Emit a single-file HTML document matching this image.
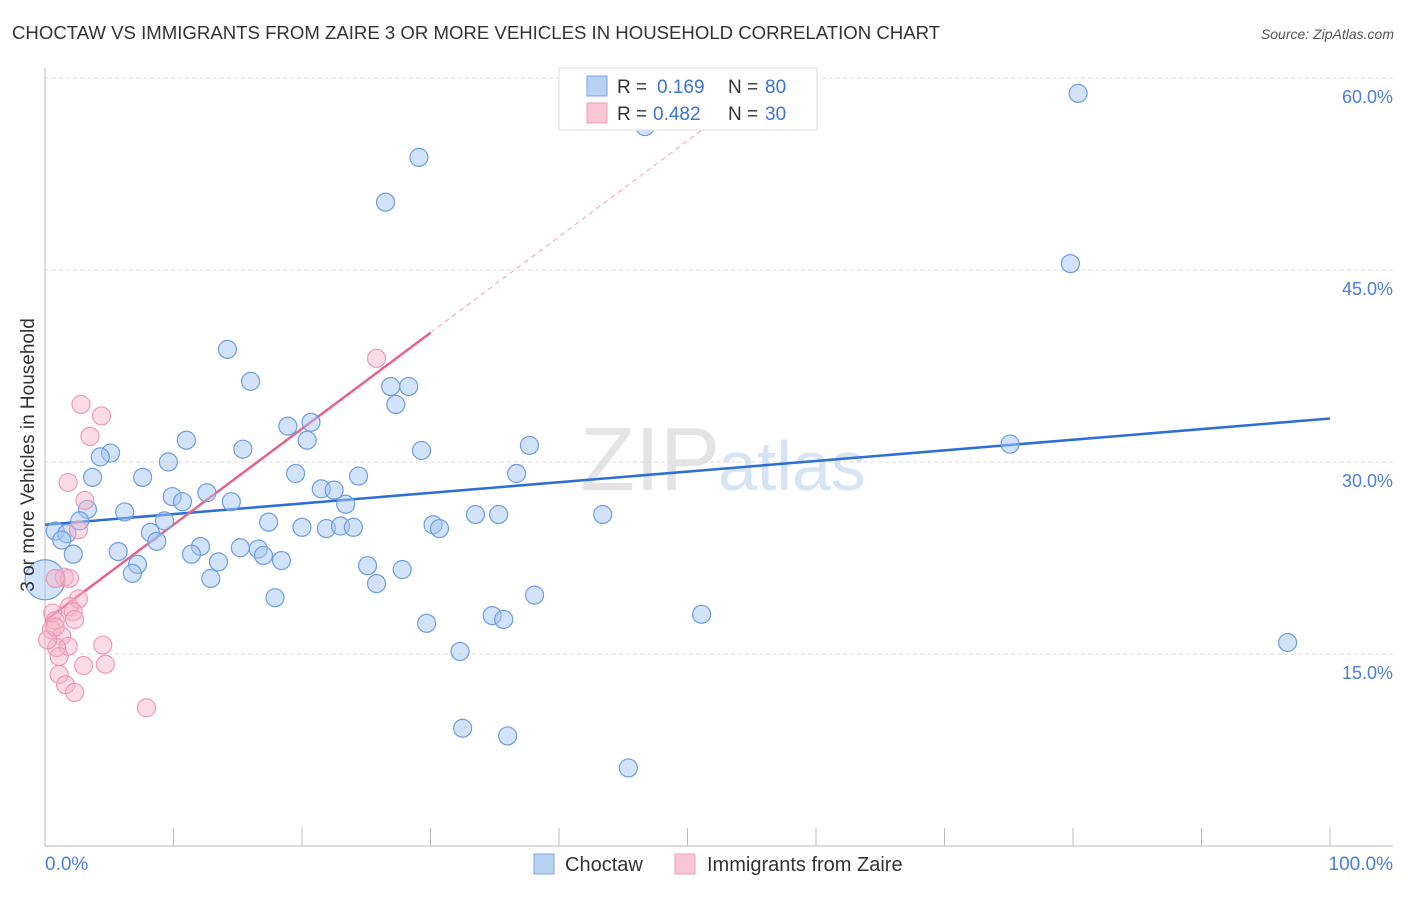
<!DOCTYPE html>
<html><head><meta charset="utf-8"><style>
body{margin:0;background:#fff;font-family:"Liberation Sans",sans-serif}
svg text{font-family:"Liberation Sans",sans-serif}
</style></head><body>
<svg id="chart" width="1406" height="892" xmlns="http://www.w3.org/2000/svg">
<text x="12" y="39" font-size="18.6" fill="#333">CHOCTAW VS IMMIGRANTS FROM ZAIRE 3 OR MORE VEHICLES IN HOUSEHOLD CORRELATION CHART</text>
<text x="1394" y="39" font-size="14" fill="#555" font-style="italic" text-anchor="end">Source: ZipAtlas.com</text>
<text x="720" y="490" font-size="90" fill="#e4e4e4" text-anchor="end" font-family="Liberation Serif">ZIP</text>
<text x="718" y="490" font-size="70" fill="#d6e4f4">atlas</text>
<g id="grid"></g>
<g id="axes"></g>
<g id="trend"></g>
<g id="points"></g>
<text x="34" y="455" font-size="19" fill="#333" text-anchor="middle" transform="rotate(-90 34 455)">3 or more Vehicles in Household</text>
<text x="45" y="870" font-size="19" fill="#4a7fd4">0.0%</text>
<text x="1393" y="870" font-size="19" fill="#4a7fd4" text-anchor="end">100.0%</text>
<g>
<rect x="559" y="68" width="258" height="62" fill="#fff" stroke="#ddd"/>
<rect x="587" y="76" width="20" height="20" fill="#b9d2f3" stroke="#7aa5e5"/>
<rect x="587" y="103" width="20" height="20" fill="#f9c6d6" stroke="#ef9fb8"/>
<text x="617" y="93" font-size="19" fill="#333">R =</text><text x="657" y="93" font-size="19" fill="#3a74d4">0.169</text>
<text x="728" y="93" font-size="19" fill="#333">N =</text><text x="765" y="93" font-size="19" fill="#3a74d4">80</text>
<text x="617" y="120" font-size="19" fill="#333">R =</text><text x="653" y="120" font-size="19" fill="#3a74d4">0.482</text>
<text x="728" y="120" font-size="19" fill="#333">N =</text><text x="765" y="120" font-size="19" fill="#3a74d4">30</text>
</g>
<g>
<rect x="534" y="854" width="20" height="20" fill="#b9d2f3" stroke="#7aa5e5"/>
<text x="565" y="871" font-size="20" fill="#333">Choctaw</text>
<rect x="675" y="854" width="20" height="20" fill="#f9c6d6" stroke="#ef9fb8"/>
<text x="707" y="871" font-size="20" fill="#333">Immigrants from Zaire</text>
</g>
</svg>
<script>
const yTicks=[15,30,45,60];
const yTickLabels=["15.0%","30.0%","45.0%","60.0%"];
const xTicks=[10,20,30,40,50,60,70,80,90,100];
const choctawX=[80.4,46.7,29.1,26.5,79.8,14.2,16.0,26.9,28.3,27.3,20.7,18.9,20.4,11.0,37.7,75.1,15.4,29.3,5.1,4.3,9.6,19.5,36.7,3.7,7.6,24.4,21.5,22.5,12.6,9.9,10.7,14.5,23.4,3.3,6.2,33.5,35.3,43.4,2.7,9.3,17.4,30.2,30.7,20.0,21.9,23.0,24.0,0.8,1.7,8.2,1.3,8.7,12.1,15.2,16.6,5.7,17.0,2.2,11.4,18.4,13.5,7.2,25.1,27.8,6.8,12.9,25.8,38.1,17.9,34.8,35.7,51.1,29.7,32.3,96.7,32.5,36.0,45.4,0];
const choctawY=[58.8,56.2,53.8,50.3,45.5,38.8,36.3,35.9,35.9,34.5,33.1,32.8,31.7,31.7,31.3,31.4,31.0,30.9,30.7,30.4,30.0,29.1,29.1,28.8,28.8,28.9,27.9,27.8,27.6,27.3,26.9,26.9,26.7,26.3,26.1,25.9,25.9,25.9,25.4,25.4,25.3,25.1,24.8,24.9,24.8,25.0,24.9,24.6,24.4,24.5,23.9,23.8,23.4,23.3,23.2,23.0,22.7,22.8,22.8,22.3,22.2,22.0,21.9,21.6,21.3,20.9,20.5,19.6,19.4,18.0,17.7,18.1,17.4,15.2,15.9,9.2,8.6,6.1,20.8];
const zaireX=[25.8,2.8,4.4,3.5,1.8,3.1,2.6,1.5,1.9,0.8,2.6,1.9,2.2,2.3,0.6,0.8,0.5,1.3,4.5,1.8,0.9,1.1,3.0,4.7,1.1,1.6,2.3,7.9,0.2,0.8];
const zaireY=[38.1,34.5,33.6,32.0,28.4,27.0,24.7,21.0,20.9,20.9,19.3,18.7,18.3,17.7,18.2,17.6,16.9,16.4,15.7,15.6,15.5,14.8,14.1,14.2,13.4,12.6,12.0,10.8,16.1,17.1];
const choctawTrend=[25.1,33.4];
const zaireTrend=[17.6,40.1];
const NS="http://www.w3.org/2000/svg";
const X0=45,X1=1330,Y0=846,PX15=192;
function sx(v){return X0+(X1-X0)*v/100;}
function sy(v){return Y0-v*PX15/15;}
function mk(tag,attrs,parent){const e=document.createElementNS(NS,tag);for(const k in attrs)e.setAttribute(k,attrs[k]);document.getElementById(parent).appendChild(e);return e;}
yTicks.forEach((t,i)=>{
  const l=mk('line',{x1:X0,x2:1393,y1:sy(t),y2:sy(t),stroke:'#ddd','stroke-dasharray':'4,3'},'grid');
  
  
  const tx=mk('text',{x:1393,y:sy(t)+25,'font-size':18,fill:'#4a7fd4','text-anchor':'end'},'grid');
  tx.textContent=yTickLabels[i];
  
  
});
let a=mk('line',{x1:X0,x2:X0,y1:68,y2:Y0,stroke:'#bbb'},'axes');


a=mk('line',{x1:X0,x2:1393,y1:Y0,y2:Y0,stroke:'#bbb'},'axes');


xTicks.forEach(t=>{
  const l=mk('line',{x1:sx(t),x2:sx(t),y1:Y0,y2:Y0-18,stroke:'#bbb'},'axes');
  
  
});
let tl=mk('line',{x1:sx(0),y1:sy(choctawTrend[0]),x2:sx(100),y2:sy(choctawTrend[1]),stroke:'#2d6fd6','stroke-width':2.5},'trend');


const slope=(zaireTrend[1]-zaireTrend[0])/30;
const xEnd=(60-zaireTrend[0])/slope;
tl=mk('line',{x1:sx(30),y1:sy(zaireTrend[1]),x2:sx(xEnd),y2:sy(60),stroke:'#f0a0b8','stroke-width':1,'stroke-dasharray':'5,4'},'trend');


tl=mk('line',{x1:sx(0),y1:sy(zaireTrend[0]),x2:sx(30),y2:sy(zaireTrend[1]),stroke:'#e8638c','stroke-width':2.5},'trend');


choctawX.forEach((v,i)=>{
  const big=(i===choctawX.length-1);
  const c=mk('circle',{cx:sx(v),cy:sy(choctawY[i]),r:big?20:9,fill:'rgba(165,198,242,0.5)',stroke:'#6d9de3','stroke-width':1.2},'points');
  
  
});
zaireX.forEach((v,i)=>{
  const c=mk('circle',{cx:sx(v),cy:sy(zaireY[i]),r:9,fill:'rgba(246,178,200,0.45)',stroke:'#ee9ab5','stroke-width':1.2},'points');
  
  
});
</script>
</body></html>
